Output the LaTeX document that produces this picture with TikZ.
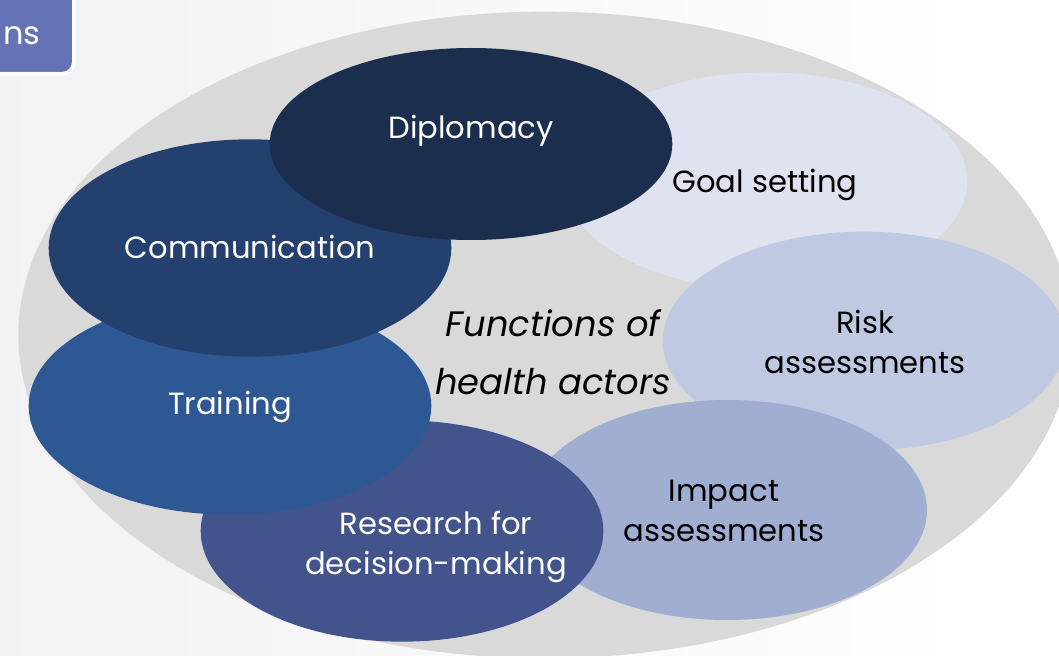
\documentclass[tikz,border=0pt]{standalone}
\usepackage{fontspec}
\setmainfont{Poppins}
\usepackage{tikz}
\usetikzlibrary{shapes.geometric}
\definecolor{bgring}{HTML}{D9D9D9}
\definecolor{dipcol}{HTML}{1B2E4E}
\definecolor{comcol}{HTML}{23406E}
\definecolor{traincol}{HTML}{2E5894}
\definecolor{rescol}{HTML}{43538C}
\definecolor{impcol}{HTML}{A0AED2}
\definecolor{riskcol}{HTML}{BFC9E1}
\definecolor{goalcol}{HTML}{DFE3F0}
\definecolor{tabcol}{HTML}{6373B5}
\tikzset{blob/.style={ellipse,inner sep=0pt,minimum width=302pt,minimum height=163pt}}
\tikzset{lbl/.style={font=\fontsize{23}{29.5}\selectfont,align=center,inner sep=0pt}}
\tikzset{whitelbl/.style={lbl,text=white}}

\begin{document}
\begin{tikzpicture}[x=0.75pt,y=-0.75pt]
        \useasboundingbox (0,0) rectangle (1059,656);
        \clip (0,0) rectangle (1059,656);
        \shade[left color=gray!10,right color=white] (0,0) rectangle (1059,656);
        % corner tab of the slide
        \draw[fill=tabcol,draw=white,line width=3pt,rounded corners=9pt] (-30,-30) rectangle (74,74);
        \node[whitelbl,font=\fontsize{24}{30}\selectfont] (tab) at (22,36) {ns};
        % grey ring behind everything
        \node[ellipse,fill=bgring,minimum width=790pt,minimum height=485pt] (ring) at (545,335) {};
        \node[blob,fill=goalcol] (goal) at (766,181) {};
        \node[blob,fill=riskcol,minimum height=164pt] (risk) at (864,341) {};
        \node[blob,fill=impcol,minimum width=300pt,minimum height=165pt] (impact) at (727,510) {};
        \node[blob,fill=rescol,minimum height=166pt] (research) at (402,531) {};
        \node[blob,fill=traincol] (training) at (230,406) {};
        \node[blob,fill=comcol] (comm) at (250,248) {};
        \node[blob,fill=dipcol,minimum height=144pt] (diplomacy) at (471,144) {};
        % labels
        \node[lbl] (goaltxt) at (765,185) {Goal setting};
        \node[lbl] (risktxt) at (865,342) {Risk\\assessments};
        \node[lbl] (imptxt) at (724,511) {Impact\\assessments};
        \node[whitelbl] (restxt) at (436,547) {Research for\\decision-making};
        \node[whitelbl] (traintxt) at (230,407) {Training};
        \node[whitelbl] (comtxt) at (250,247) {Communication};
        \node[whitelbl] (diptxt) at (471,131) {Diplomacy};
        \node[lbl,font=\fontsize{26.5}{43.5}\selectfont\itshape] (centre) at (553,352) {Functions of\\health actors};
    \end{tikzpicture}
\end{document}
